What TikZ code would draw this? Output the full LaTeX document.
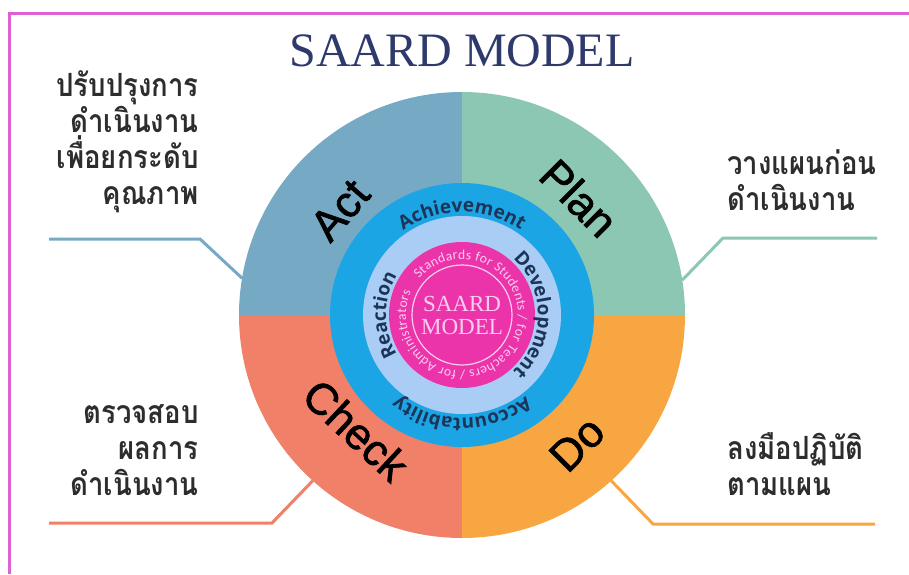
\documentclass[tikz,border=0pt]{standalone}
\usepackage{fontspec}
\setmainfont{Liberation Serif}
\newfontfamily\thaifont[Script=Thai, FakeStretch=0.86]{Loma}
\newfontfamily\labelfont[FakeBold=1.5]{Liberation Sans}
\newfontfamily\ringfont{Open Sans}
\newfontfamily\smallringfont{Carlito}
\usetikzlibrary{decorations.text,calc}

\definecolor{actcol}{RGB}{118,169,196}
\definecolor{plancol}{RGB}{140,199,180}
\definecolor{checkcol}{RGB}{240,128,104}
\definecolor{docol}{RGB}{248,166,66}
\definecolor{ringblue}{RGB}{28,165,229}
\definecolor{ringlight}{RGB}{170,205,245}
\definecolor{corepink}{RGB}{236,52,170}
\definecolor{corelight}{RGB}{250,205,238}
\definecolor{ringtext}{RGB}{28,52,88}
\definecolor{titlecol}{RGB}{46,58,108}
\definecolor{framecol}{RGB}{222,96,214}
\definecolor{notecol}{RGB}{45,45,45}

\tikzset{
  quadlabel/.style={font=\labelfont\fontsize{22}{22}\selectfont, text=black, inner sep=0pt},
  notetext/.style={font=\thaifont\bfseries\fontsize{16}{18}\selectfont, text=notecol, inner sep=0pt},
  connector/.style={line width=1.5pt},
  ringword/.style={decorate, decoration={text along path, text align=center,
    text={|\ringfont\bfseries\fontsize{9.5}{9.5}\selectfont\color{ringtext}|#1}}}
}

\begin{document}
\begin{tikzpicture}[x=0.5pt,y=0.5pt]
  \useasboundingbox (0,0) rectangle (909,574);
  \fill[white] (0,0) rectangle (909,574);
  \draw[framecol, line width=1.5pt] (909,560) -- (9,560) -- (9,0);

  \node[font=\fontsize{24}{24}\selectfont, text=titlecol] (title) at (462,523) {SAARD MODEL};

  \coordinate (C) at (462,259);

  % connectors to the notes
  \coordinate (actend) at (49,335);
  \coordinate (actknee) at (200,335);
  \coordinate (actrim) at ($(C)+(170.5:223)$);
  \coordinate (planend) at (877,336);
  \coordinate (planknee) at (723,336);
  \coordinate (planrim) at ($(C)+(9:223)$);
  \coordinate (checkend) at (49,51);
  \coordinate (checkknee) at (272,51);
  \coordinate (checkrim) at ($(C)+(228:223)$);
  \coordinate (doend) at (875,50);
  \coordinate (doknee) at (653,50);
  \coordinate (dorim) at ($(C)+(-48:223)$);
  \draw[connector, actcol] (actend) -- (actknee) -- (actrim);
  \draw[connector, plancol] (planend) -- (planknee) -- (planrim);
  \draw[connector, checkcol] (checkend) -- (checkknee) -- (checkrim);
  \draw[connector, docol] (doend) -- (doknee) -- (dorim);

  \fill[actcol] (C) -- ++(90:223) arc[start angle=90, end angle=180, radius=223] -- cycle;
  \fill[plancol] (C) -- ++(0:223) arc[start angle=0, end angle=90, radius=223] -- cycle;
  \fill[checkcol] (C) -- ++(180:223) arc[start angle=180, end angle=270, radius=223] -- cycle;
  \fill[docol] (C) -- ++(270:223) arc[start angle=270, end angle=360, radius=223] -- cycle;

  \node[quadlabel, rotate=49] (act) at (340,364) {Act};
  \node[quadlabel, rotate=-45] (plan) at (579,376) {Plan};
  \node[quadlabel, rotate=-43] (check) at (356,144) {Check};
  \node[quadlabel, rotate=45] (do) at (577,130) {Do};

  \fill[ringblue] (C) circle[radius=132];
  \fill[ringlight] (C) circle[radius=99];
  \fill[corepink] (C) circle[radius=73];
  \draw[corelight, line width=0.6pt] (C) circle[radius=50];

  \path[ringword=Achievement] ($(C)+(150:103)$) arc[start angle=150, end angle=30, radius=103];
  \path[ringword=Development] ($(C)+(60:76)$) arc[start angle=60, end angle=-60, radius=76];
  \path[ringword=Accountability] ($(C)+(-20:103)$) arc[start angle=-20, end angle=-160, radius=103];
  \path[ringword=Reaction] ($(C)+(240:76)$) arc[start angle=240, end angle=120, radius=76];
  \path[decorate, decoration={text along path, text align={fit to path},
    text={|\smallringfont\fontsize{6.8}{6.8}\selectfont\color{corelight}|Standards for Students / for Teachers / for Administrators}}]
    ($(C)+(140:56)$) arc[start angle=140, end angle=-205, radius=56];

  \node[font=\fontsize{11.5}{11.5}\selectfont, text=corelight, align=center] (core) at (C) {SAARD\\MODEL};

  \node[notetext, anchor=base east, align=right] (actnote) at (199,370) {ปรับปรุงการ\\ดำเนินงาน\\เพื่อยกระดับ\\คุณภาพ};
  \node[notetext, anchor=base west, align=left] (plannote) at (727,364) {วางแผนก่อน\\ดำเนินงาน};
  \node[notetext, anchor=base east, align=right] (checknote) at (199,79) {ตรวจสอบ\\ผลการ\\ดำเนินงาน};
  \node[notetext, anchor=base west, align=left] (donote) at (727,79) {ลงมือปฏิบัติ\\ตามแผน};
\end{tikzpicture}
\end{document}
